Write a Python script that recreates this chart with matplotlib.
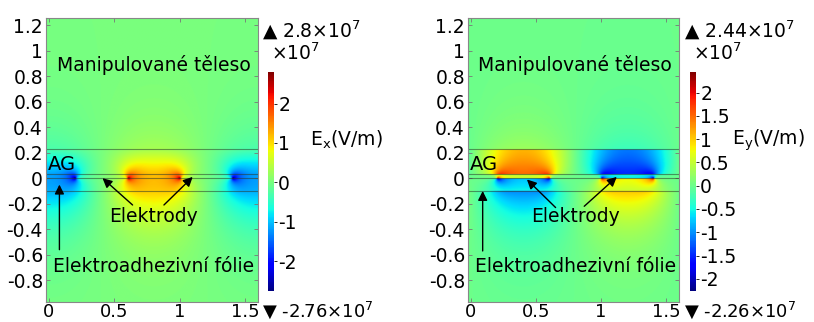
import matplotlib
matplotlib.use("Agg")
import matplotlib.pyplot as plt
import numpy as np
from matplotlib.ticker import FuncFormatter

# geometry (mm)
period = 1.6
strip_edges = [(0.2, 0.6), (1.0, 1.4)]
strip_sign = [1, -1]
interfaces = [-0.1, 0.0, 0.03, 0.225]       # horizontal boundary lines
eps_sub, eps_film, eps_air, eps_obj = 1.5, 3.0, 1.0, 4.0

xlim = (-0.025, 1.6)
ylim = (-0.97, 1.255)
yticks = [-0.8, -0.6, -0.4, -0.2, 0, 0.2, 0.4, 0.6, 0.8, 1, 1.2]
xticks = [0, 0.5, 1, 1.5]

ex_range = (-2.76, 2.8)      # x1e7 V/m
ey_range = (-2.26, 2.44)
ex_ticks = [-2, -1, 0, 1, 2]
ey_ticks = [-2, -1.5, -1, -0.5, 0, 0.5, 1, 1.5, 2]
ex_ref = 1.1                 # Ex between electrodes (0.8, 0.05), x1e7 V/m
ey_ref = 1.3                 # Ey in air gap above left electrode (0.4, 0.12)


def j0(z):
    th = np.linspace(0, np.pi, 4001)
    return np.trapezoid(np.cos(z[:, None] * np.sin(th)[None, :]), th, axis=1) / np.pi


def admittances(k, layers):
    Y = [None] * len(layers)
    Y[-1] = layers[-1][1] * k
    for i in range(len(layers) - 2, -1, -1):
        t, e = layers[i]
        th = np.tanh(k * t)
        Y[i] = e * k * (Y[i + 1] + e * k * th) / (e * k + Y[i + 1] * th)
    return Y


def propagate(k, layers, Y, phi0, s):
    # phi and d(phi)/ds at depths s >= 0
    phi = np.zeros((len(s), len(k)))
    dphi = np.zeros((len(s), len(k)))
    pb = phi0
    sb = 0.0
    for i, (t, e) in enumerate(layers):
        if i < len(layers) - 1:
            G = (e * k - Y[i + 1]) / (e * k + Y[i + 1])
            et = np.exp(-2 * k * t)
        else:
            G = np.zeros_like(k)
            et = np.zeros_like(k)
            t = np.inf
        U = pb / (1 + G * et)
        m = (s >= sb) & (s < sb + t)
        u = (s[m] - sb)[:, None]
        a = np.exp(-k * u)
        b = G * np.exp(-k * (2 * t - u)) if np.isfinite(t) else 0.0
        phi[m] = U * (a + b)
        dphi[m] = -k * U * (a - b)
        if np.isfinite(t):
            pb = U * np.exp(-k * t) * (1 + G)
            sb += t
    return phi, dphi


nmodes = 600
k = 2 * np.pi * np.arange(1, nmodes + 1) / period
sig = np.zeros(nmodes, dtype=complex)
for (a, b), q in zip(strip_edges, strip_sign):
    sig += q * np.pi * j0(k * (b - a) / 2) * np.exp(-1j * k * (a + b) / 2)

up = [(interfaces[2] - interfaces[1], eps_film),
      (interfaces[3] - interfaces[2], eps_air), (np.inf, eps_obj)]
down = [(interfaces[1] - interfaces[0], eps_film), (np.inf, eps_sub)]
Yu = admittances(k, up)
Yd = admittances(k, down)
g0 = 1.0 / (Yu[0] + Yd[0])

xs = np.linspace(xlim[0], xlim[1], 460)
ys = np.linspace(ylim[0], ylim[1], 620)
pu, du = propagate(k, up, Yu, g0, np.clip(ys, 0, None))
pd, dd = propagate(k, down, Yd, g0, np.clip(-ys, 0, None))
top = (ys >= 0)[:, None]
g = np.where(top, pu, pd)
dg = np.where(top, du, -dd)        # d/dy
damp = np.exp(-k * 0.004)
E = np.exp(1j * k[:, None] * xs[None, :])
Ex = np.real((g * (-1j * k) * sig * damp) @ E)
Ey = np.real((-dg * sig * damp) @ E)


def at(F, x, y):
    return F[np.argmin(abs(ys - y)), np.argmin(abs(xs - x))]


Ex *= ex_ref / at(Ex, 0.8, 0.05)
Ey *= ey_ref / at(Ey, 0.4, 0.12)

plt.rcParams['font.family'] = 'DejaVu Sans'
plt.rcParams['font.size'] = 13.5
fig = plt.figure(figsize=(8.14, 3.22), dpi=100)

W, H = 814, 322


def box(x0, y0, x1, y1):
    return [x0 / W, 1 - y1 / H, (x1 - x0) / W, (y1 - y0) / H]


fmt = FuncFormatter(lambda v, p: ('%g' % v).replace('\u2212', '-'))

panels = [
    (Ex, ex_range, ex_ticks, box(45.7, 18, 258, 302), box(268, 72, 274, 291),
     r'E$_\mathrm{x}$(V/m)', '2.8', '-2.76', 262, 310),
    (Ey, ey_range, ey_ticks, box(467.7, 18, 679.3, 302), box(690, 72, 696, 291),
     r'E$_\mathrm{y}$(V/m)', '2.44', '-2.26', 684, 732),
]

arrows = [
    [((0.41, 0.0), (0.64, -0.21)), ((1.1, 0.01), (0.88, -0.21)), ((0.08, -0.05), (0.08, -0.56))],
    [((0.43, -0.01), (0.65, -0.23)), ((1.12, 0.01), (0.87, -0.22)), ((0.09, -0.1), (0.09, -0.57))],
]

for (F, rng, cticks, apos, cpos, lab, vmax_s, vmin_s, tx, lx), arr in zip(panels, arrows):
    ax = fig.add_axes(apos)
    im = ax.imshow(F, origin='lower', extent=[xlim[0], xlim[1], ylim[0], ylim[1]],
                   cmap='jet', vmin=rng[0], vmax=rng[1], aspect='auto',
                   interpolation='bilinear')
    for yv in interfaces:
        ax.axhline(yv, color='#2a3a2a', alpha=0.55, lw=0.8)
    ax.set_xlim(xlim)
    ax.set_ylim(ylim)
    ax.set_xticks(xticks)
    ax.set_yticks(yticks)
    ax.xaxis.set_major_formatter(fmt)
    ax.yaxis.set_major_formatter(fmt)
    ax.tick_params(direction='in', length=3, width=0.6, color='#777777',
                   top=True, right=True, pad=2, labelsize=13.5)
    ax.tick_params(axis='x', pad=0.5, labelsize=13)
    for sp in ax.spines.values():
        sp.set_color('#888888')
        sp.set_linewidth(0.8)

    ax.text(0.8, 0.89, 'Manipulované těleso', ha='center', va='center', fontsize=13.5)
    ax.text(-0.01, 0.11, 'AG', ha='left', va='center', fontsize=14)
    ax.text(0.8, -0.3, 'Elektrody', ha='center', va='center', fontsize=13.5)
    ax.text(0.8, -0.69, 'Elektroadhezivní fólie', ha='center', va='center', fontsize=13.5)
    for head, tail in arr:
        ax.annotate('', xy=head, xytext=tail,
                    arrowprops=dict(arrowstyle='-|>', color='k', lw=1, mutation_scale=14,
                                    shrinkA=0, shrinkB=0))

    cax = fig.add_axes(cpos)
    cb = fig.colorbar(im, cax=cax, ticks=cticks)
    cb.outline.set_visible(False)
    cb.ax.yaxis.set_major_formatter(fmt)
    cb.ax.tick_params(length=2, width=0.6, pad=1, labelsize=13.5)

    fig.text(tx / W, 1 - 30 / H, '\u25b2 ' + vmax_s + r'$\times$10$^7$', ha='left', va='center', fontsize=13.5)
    fig.text((tx + 9) / W, 1 - 53 / H, r'$\times$10$^7$', ha='left', va='center', fontsize=13.5)
    fig.text(tx / W, 1 - 310 / H, '\u25bc ' + vmin_s + r'$\times$10$^7$', ha='left', va='center', fontsize=13)
    fig.text(lx / W, 1 - 140 / H, lab, ha='left', va='center', fontsize=13.5)

fig.savefig('out.png', dpi=100)
